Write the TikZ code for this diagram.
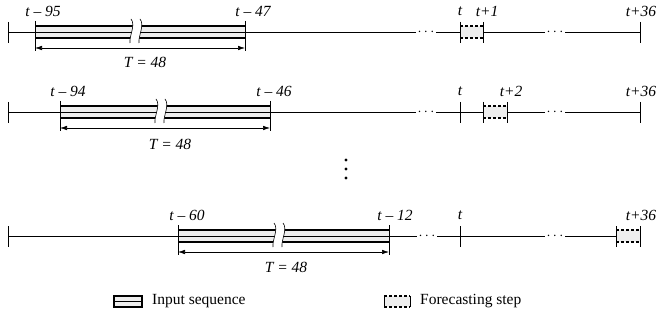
\documentclass[tikz,border=0pt]{standalone}
\usepackage{fontspec}
\setmainfont{Liberation Serif}
\usetikzlibrary{arrows.meta}

\begin{document}
\begin{tikzpicture}[
  x=1pt, y=-1pt,
  font=\fontsize{15.5}{18}\selectfont,
  axis/.style={line width=0.8pt},
  tickmark/.style={line width=0.8pt},
  seqfill/.style={fill=gray!13},
  seqline/.style={line width=1.2pt},
  midline/.style={line width=0.6pt},
  stepline/.style={line width=1.3pt, dash pattern=on 3.2pt off 1.8pt},
  dim/.style={{Latex[length=7pt,width=4.5pt]}-{Latex[length=7pt,width=4.5pt]}, line width=0.6pt},
  lab/.style={font=\fontsize{15.5}{18}\selectfont\itshape, inner sep=0pt},
  hdots/.style={inner sep=0pt, minimum width=20pt, minimum height=4pt},
  seqcut/.pic={
    \fill[white] (0,-13) .. controls (5,-7) and (-2,4) .. (-1,11) -- (8,11)
      .. controls (7,4) and (14,-7) .. (9,-13) -- cycle;
    \draw[line width=0.6pt] (0,-13) .. controls (5,-7) and (-2,4) .. (-1,11)
      (9,-13) .. controls (14,-7) and (7,4) .. (8,11);
  }
]
\useasboundingbox (0,0) rectangle (660,320);

% ---- row 1 ----
\coordinate (a1) at (8,32);
\coordinate (s1) at (35,32);
\coordinate (e1) at (245,32);
\coordinate (t1) at (460,32);
\coordinate (f1) at (483,32);
\coordinate (z1) at (640,32);
\node[hdots] (da1) at (426,32) {$\cdots$};
\node[hdots] (db1) at (555,32) {$\cdots$};
\draw[axis] (a1) -- (s1);
\draw[axis] (e1) -- (da1.west);
\draw[axis] (da1.east) -- (t1);
\draw[axis] (f1) -- (db1.west);
\draw[axis] (db1.east) -- (z1);
\fill[seqfill] (35,26) rectangle (245,38);
\draw[seqline] (35,26) -- (245,26) (35,38) -- (245,38);
\draw[midline] (s1) -- (e1);
\pic at (131,32) {seqcut};
\fill[seqfill] (460,26) rectangle (483,38);
\draw[stepline] (460,26) -- (483,26) (460,38) -- (483,38);
\draw[tickmark] (8,22) -- (8,43) (460,22) -- (460,43) (483,22) -- (483,43) (640,22) -- (640,43);
\draw[tickmark] (35,21) -- (35,51) (245,21) -- (245,51);
\draw[dim] (35,48) -- (245,48);
\node[lab] (l1a) at (43,11) {t -- 95};
\node[lab] (l1b) at (253,11) {t -- 47};
\node[lab] (l1t) at (460,11) {t};
\node[lab] (l1f) at (487,11) {t+1};
\node[lab] (l1z) at (641,11) {t+36};
\node[lab] (T1) at (145,62) {T = 48};

% ---- row 2 ----
\coordinate (a2) at (8,112);
\coordinate (s2) at (60,112);
\coordinate (e2) at (270,112);
\coordinate (t2) at (460,112);
\coordinate (g2) at (483,112);
\coordinate (f2) at (507,112);
\coordinate (z2) at (640,112);
\node[hdots] (da2) at (426,112) {$\cdots$};
\node[hdots] (db2) at (555,112) {$\cdots$};
\draw[axis] (a2) -- (s2);
\draw[axis] (e2) -- (da2.west);
\draw[axis] (da2.east) -- (g2);
\draw[axis] (f2) -- (db2.west);
\draw[axis] (db2.east) -- (z2);
\fill[seqfill] (60,106) rectangle (270,118);
\draw[seqline] (60,106) -- (270,106) (60,118) -- (270,118);
\draw[midline] (s2) -- (e2);
\pic at (156,112) {seqcut};
\fill[seqfill] (483,106) rectangle (507,118);
\draw[stepline] (483,106) -- (507,106) (483,118) -- (507,118);
\draw[tickmark] (8,102) -- (8,123) (460,102) -- (460,123) (483,102) -- (483,123) (507,102) -- (507,123) (640,102) -- (640,123);
\draw[tickmark] (60,101) -- (60,131) (270,101) -- (270,131);
\draw[dim] (60,128) -- (270,128);
\node[lab] (l2a) at (68,91) {t -- 94};
\node[lab] (l2b) at (274,91) {t -- 46};
\node[lab] (l2t) at (460,91) {t};
\node[lab] (l2f) at (511,91) {t+2};
\node[lab] (l2z) at (641,91) {t+36};
\node[lab] (T2) at (170,144) {T = 48};

% ---- vertical dots ----
\fill (346,160) circle (1.6) (346,169) circle (1.6) (346,178) circle (1.6);

% ---- row 3 ----
\coordinate (a3) at (8,236);
\coordinate (s3) at (178,236);
\coordinate (e3) at (389,236);
\coordinate (t3) at (460,236);
\coordinate (g3) at (616,236);
\coordinate (z3) at (640,236);
\node[hdots] (da3) at (427,236) {$\cdots$};
\node[hdots] (db3) at (555,236) {$\cdots$};
\draw[axis] (a3) -- (s3);
\draw[axis] (e3) -- (da3.west);
\draw[axis] (da3.east) -- (t3);
\draw[axis] (t3) -- (db3.west);
\draw[axis] (db3.east) -- (g3);
\fill[seqfill] (178,230) rectangle (389,242);
\draw[seqline] (178,230) -- (389,230) (178,242) -- (389,242);
\draw[midline] (s3) -- (e3);
\pic at (274,236) {seqcut};
\fill[seqfill] (616,230) rectangle (640,242);
\draw[stepline] (616,230) -- (640,230) (616,242) -- (640,242);
\draw[tickmark] (8,226) -- (8,247) (460,226) -- (460,247) (616,226) -- (616,247) (640,226) -- (640,247);
\draw[tickmark] (178,225) -- (178,255) (389,225) -- (389,255);
\draw[dim] (178,252) -- (389,252);
\node[lab] (l3a) at (187,215) {t -- 60};
\node[lab] (l3b) at (395,215) {t -- 12};
\node[lab] (l3t) at (460,215) {t};
\node[lab] (l3z) at (641,215) {t+36};
\node[lab] (T3) at (286,267) {T = 48};

% ---- legend ----
\fill[seqfill] (114,296) rectangle (142,307);
\draw[seqline] (114,296) rectangle (142,307);
\draw[midline] (114,301.5) -- (142,301.5);
\node[anchor=west, inner sep=0pt] (inleg) at (152,301) {Input sequence};
\fill[seqfill] (384,296) rectangle (410,307);
\draw[stepline] (384,296) -- (410,296) (384,307) -- (410,307);
\draw[tickmark] (384,296) -- (384,307) (410,296) -- (410,307);
\node[anchor=west, inner sep=0pt] (fcleg) at (420,301) {Forecasting step};

\end{tikzpicture}
\end{document}
